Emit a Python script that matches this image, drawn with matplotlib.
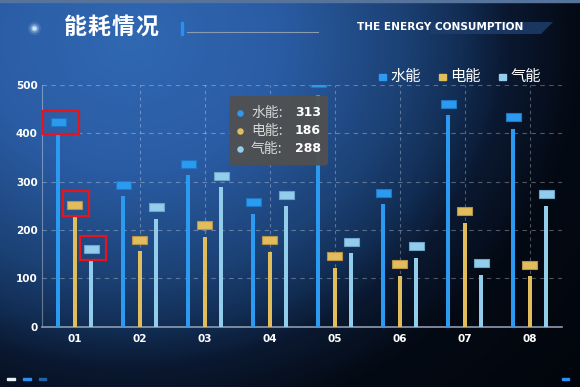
import numpy as np
import matplotlib
matplotlib.use('Agg')
import matplotlib.pyplot as plt
from matplotlib.colors import LinearSegmentedColormap
from matplotlib.patches import Rectangle, FancyBboxPatch, Polygon

# data
months = ['01', '02', '03', '04', '05', '06', '07', '08']
series_names = ['水能', '电能', '气能']
water = [400, 270, 313, 234, 480, 253, 437, 409]
power = [227, 156, 186, 155, 122, 105, 215, 104]
gas = [136, 223, 288, 249, 152, 143, 107, 250]
hover_idx = 2  # tooltip shown for "03"

colors = ['#2b9af0', '#e2bd5c', '#93cdec']
cap_edges = ['#1f78c4', '#b8924a', '#6fa6c8']
cjk = ['Noto Sans CJK SC', 'DejaVu Sans']

W, H = 580, 387
fig = plt.figure(figsize=(W / 100, H / 100), dpi=100)

# %%
# background gradient (pixel coords)
bg = fig.add_axes([0, 0, 1, 1], zorder=0)
yy, xx = np.mgrid[0:H, 0:W]
d = np.sqrt(((xx - 130) * 1.0) ** 2 + ((yy - 40) * 1.15) ** 2)
cm = LinearSegmentedColormap.from_list('bg', [
    (0.0, '#3068b2'), (0.25, '#2a5ca4'), (0.45, '#1c4276'),
    (0.55, '#122e55'), (0.63, '#0a1830'), (0.75, '#040a14'), (1.0, '#02050c')])
bg.imshow(d / 600.0, cmap=cm, vmin=0, vmax=1, extent=(0, W, H, 0), aspect='auto')
bg.set_xlim(0, W)
bg.set_ylim(H, 0)
bg.axis('off')
bg.add_patch(Rectangle((0, 0), W, 1.5, color='#56739c'))

# %%
# main chart
ax = fig.add_axes([42 / W, (H - 326.7) / H, 520 / W, 241.7 / H], zorder=1)
ax.patch.set_alpha(0)
x = np.arange(len(months))
px_x = 1 / 65.0          # data units per pixel (x)
px_y = 500 / 241.7       # data units per pixel (y)
off = 16.5 * px_x
bw = 4 * px_x
cw = 15 * px_x
gap = 7.5 * px_y
ch = 8 * px_y

for i, vals in enumerate([water, power, gas]):
    xs = x + (i - 1) * off
    vals = np.array(vals)
    ax.bar(xs, vals, width=bw, color=colors[i], zorder=3)
    ax.bar(xs, ch, bottom=vals + gap, width=cw, color=colors[i],
           edgecolor=cap_edges[i], linewidth=0.8, zorder=4)

ax.set_xlim(-0.5, 7.5)
ax.set_ylim(0, 500)
ax.set_yticks(range(0, 501, 100))
ax.set_xticks(x)
ax.set_xticklabels(months)
ax.yaxis.grid(True, linestyle=(0, (4, 4)), color='white', alpha=0.3, lw=0.8, zorder=1)
ax.vlines(x[1:], 0, 500, linestyles=(0, (3, 3)), colors='white', alpha=0.3, lw=0.8, zorder=1)
ax.set_axisbelow(True)
for s in ['top', 'right']:
    ax.spines[s].set_visible(False)
ax.spines['bottom'].set_color('#8d9bb0')
ax.spines['bottom'].set_linewidth(1.2)
ax.spines['left'].set_color((1, 1, 1, 0.35))
ax.tick_params(length=0, colors='white', labelsize=7.5)
ax.tick_params(axis='y', pad=3)
ax.tick_params(axis='x', pad=5)
for t in ax.get_xticklabels() + ax.get_yticklabels():
    t.set_fontweight('bold')

# red highlight boxes around the first group's caps (pad in pixels: l, r, top, bottom)
pads = [(7.5, 13, 7, 8), (4.5, 6.5, 10.5, 6.5), (3.5, 7.5, 9.5, 6.5)]
for i, vals in enumerate([water, power, gas]):
    cx = x[0] + (i - 1) * off
    yb = vals[0] + gap
    l, r, t, b = pads[i]
    ax.add_patch(Rectangle((cx - cw / 2 - l * px_x, yb - b * px_y),
                           cw + (l + r) * px_x, ch + (t + b) * px_y,
                           fill=False, edgecolor='#e8141c', lw=1.6,
                           zorder=6, clip_on=False))

# %%
# overlay: header, legend, tooltip, decorations (pixel coords)
ov = fig.add_axes([0, 0, 1, 1], zorder=2)
ov.set_xlim(0, W)
ov.set_ylim(H, 0)
ov.axis('off')
ov.patch.set_alpha(0)

for s, a in [(90, 0.12), (45, 0.25), (18, 0.6), (6, 1.0)]:
    ov.scatter([34], [28], s=s, color='#cfe6ff', alpha=a, lw=0)
for k, ch_ in enumerate('能耗情况'):
    ov.text(63 + 24 * k + 12, 27.5, ch_, color='white', fontsize=16.5, fontweight='heavy',
            family=cjk, ha='center', va='center')
ov.add_patch(Rectangle((180.5, 22), 2.5, 13, color='#2a8ff0'))
ov.plot([187, 318], [31.5, 31.5], color='#8a9ab0', lw=0.8)

ov.add_patch(Polygon([(430, 22), (553, 22), (541, 34), (430, 34)], closed=True,
                     color='#1d3d6c', alpha=0.85, lw=0))
ov.text(357, 27.5, 'THE ENERGY CONSUMPTION', color='white', fontsize=7.6,
        fontweight='bold', ha='left', va='center')

# legend
leg_x = [379, 439, 499]
for i, name in enumerate(series_names):
    ov.add_patch(Rectangle((leg_x[i], 73.5), 6.5, 6.5, color=colors[i]))
    ov.text(leg_x[i] + 11.5, 76, name, color='white', fontsize=11,
            family=cjk, ha='left', va='center')

# tooltip
ov.add_patch(FancyBboxPatch((229.5, 96), 98.5, 69.5, boxstyle='round,pad=0,rounding_size=3',
                            facecolor='#505050', edgecolor='none', alpha=0.95))
rows = [water, power, gas]
for i, name in enumerate(series_names):
    ty = 113 + 18 * i
    ov.scatter([239.7], [ty], s=22, color=colors[i], lw=0)
    ov.text(251, ty, name + ':', color='#d8d8d8', fontsize=10, family=cjk,
            ha='left', va='center')
    ov.text(321, ty, str(rows[i][hover_idx]), color='white', fontsize=9,
            fontweight='bold', ha='right', va='center')

# bottom dashes
for x0, x1, c in [(7, 15, '#e8eef5'), (23, 31, '#2a8ff0'), (39, 46, '#1f62a6'), (562, 569, '#2a8ff0')]:
    ov.add_patch(Rectangle((x0, 378), x1 - x0, 2.2, color=c))

fig.savefig('out.png', dpi=100)
